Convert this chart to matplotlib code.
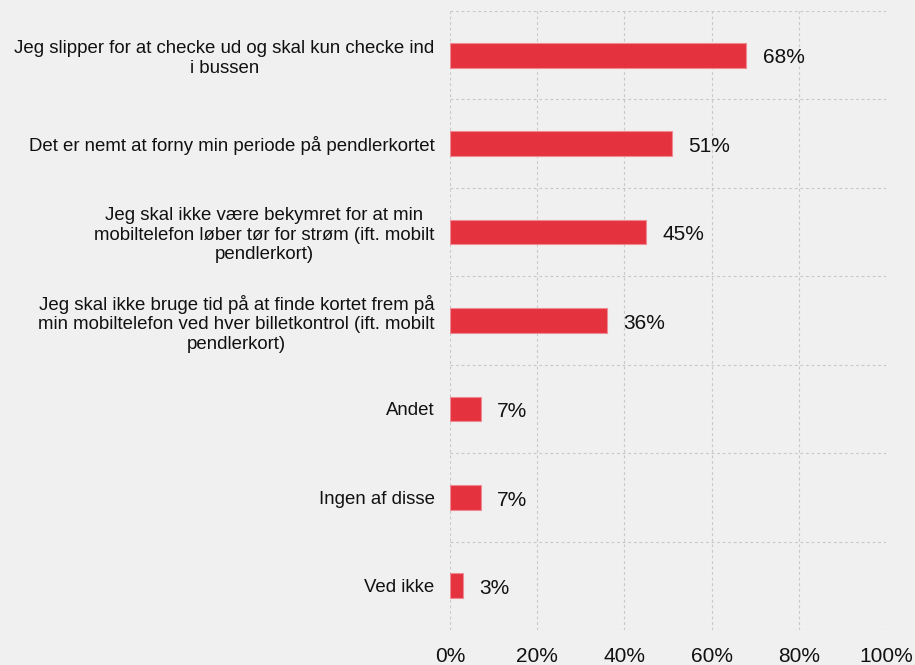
import matplotlib.pyplot as plt
import numpy as np
from matplotlib.ticker import FixedLocator, PercentFormatter

categories = [
    "Jeg slipper for at checke ud og skal kun checke ind\ni bussen",
    "Det er nemt at forny min periode på pendlerkortet",
    "Jeg skal ikke være bekymret for at min\nmobiltelefon løber tør for strøm (ift. mobilt\npendlerkort)",
    "Jeg skal ikke bruge tid på at finde kortet frem på\nmin mobiltelefon ved hver billetkontrol (ift. mobilt\npendlerkort)",
    "Andet",
    "Ingen af disse",
    "Ved ikke",
]
values = [68, 51, 45, 36, 7, 7, 3]
x_ticks = [0, 20, 40, 60, 80, 100]

bg = "#f0f0f0"
bar_color = "#e5323f"

plt.rcParams["font.family"] = ["Liberation Sans", "DejaVu Sans"]

fig = plt.figure(figsize=(9.15, 6.65), dpi=100, facecolor=bg)
ax = fig.add_axes([0.4918, 0.0526, 0.9683 - 0.4918, 0.9835 - 0.0526])
ax.set_facecolor(bg)

y = np.arange(len(categories))
ax.barh(y, values, height=0.28, color=bar_color, edgecolor="#f08a92", linewidth=0.8, zorder=3)

for yi, v in zip(y, values):
    ax.text(v + 3.7, yi + 0.03, f"{v}%", va="center", ha="left", fontsize=15, color="#111111")

ax.set_xlim(0, 100)
ax.set_ylim(len(categories) - 0.5, -0.5)
ax.set_xticks(x_ticks)
ax.xaxis.set_major_formatter(PercentFormatter(decimals=0))
ax.set_yticks(y)
ax.set_yticklabels(categories, fontsize=13.4, ha="right", multialignment="center")
ax.yaxis.set_minor_locator(FixedLocator(np.arange(-0.5, len(categories), 1)))

ax.tick_params(axis="x", length=0, labelsize=15, pad=12, colors="#111111")
ax.tick_params(axis="y", which="both", length=0)
ax.tick_params(axis="y", pad=11, colors="#111111")

ax.grid(axis="x", which="major", linestyle=(0, (2.5, 2.5)), color="#c8c8c8", linewidth=0.8, zorder=0)
ax.grid(axis="y", which="minor", linestyle=(0, (2.5, 2.5)), color="#c8c8c8", linewidth=0.8, zorder=0)
for s in ax.spines.values():
    s.set_visible(False)

fig.savefig("out.png", dpi=100, facecolor=bg)
